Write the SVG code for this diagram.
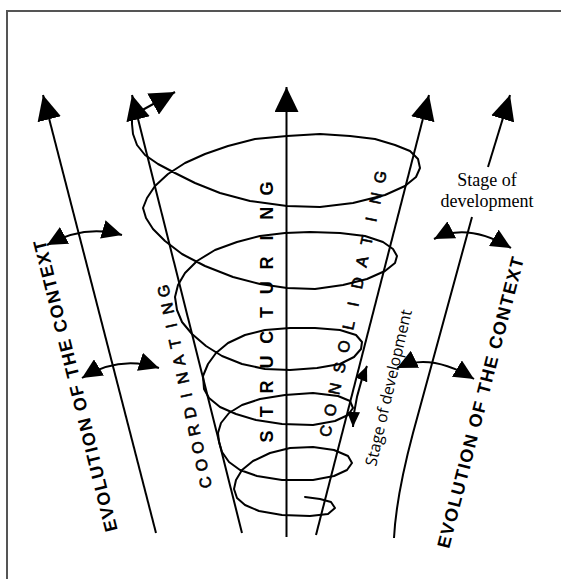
<svg xmlns="http://www.w3.org/2000/svg" width="561" height="579" viewBox="0 0 561 579">
<defs>
<style>
.ln{fill:none;stroke:#000;stroke-width:2}
.sp{fill:none;stroke:#000;stroke-width:2;stroke-linejoin:round;stroke-linecap:round}
.ev{font-family:"Liberation Sans",Arial,sans-serif;font-weight:bold;font-size:18px;fill:#000}
.st{font-family:"Liberation Sans",Arial,sans-serif;font-weight:bold;font-size:18px;fill:#000}
.co{font-family:"Liberation Sans",Arial,sans-serif;font-size:16px;fill:#000;stroke:#000;stroke-width:0.6}
.sd{font-family:"Liberation Serif","Times New Roman",serif;font-size:18px;fill:#000}
.sdi{font-family:"Open Sans","Noto Sans",sans-serif;font-size:16px;fill:#000}
</style>
<marker id="big" viewBox="0 0 25 24" refX="25" refY="12" markerWidth="25" markerHeight="24" markerUnits="userSpaceOnUse" orient="auto"><path d="M0,0 L25,12 L0,24 Z" fill="#000"/></marker>
<marker id="mid" viewBox="0 0 20 19" refX="20" refY="9.5" markerWidth="20" markerHeight="19" markerUnits="userSpaceOnUse" orient="auto-start-reverse"><path d="M0,0 L20,9.5 L0,19 Z" fill="#000"/></marker>
<marker id="sm" viewBox="0 0 15 13" refX="15" refY="6.5" markerWidth="15" markerHeight="13" markerUnits="userSpaceOnUse" orient="auto-start-reverse"><path d="M0,0 L15,6.5 L0,13 Z" fill="#000"/></marker>
</defs>
<rect width="561" height="579" fill="#fff"/>
<path id="frame" d="M7,579 L7,11 L561,11" fill="none" stroke="#555" stroke-width="2"/>

<g id="connectors">
<line id="axis-context-left" class="ln" x1="156" y1="533" x2="43" y2="95" marker-end="url(#big)"/>
<line id="axis-coordinating" class="ln" x1="242" y1="533" x2="132" y2="95" marker-end="url(#big)"/>
<line id="axis-structuring" class="ln" x1="286.5" y1="537" x2="286.5" y2="87" marker-end="url(#big)"/>
<line id="axis-consolidating" class="ln" x1="316" y1="535" x2="429" y2="95" marker-end="url(#big)"/>
<line id="axis-context-right-top" class="ln" x1="488" y1="167" x2="510" y2="95" marker-end="url(#big)"/>
<path id="axis-context-right-bottom" class="ln" d="M472,217 L413,433 C405,463 396,500 394,538"/>
<line id="spiral-head" class="ln" x1="137" y1="113" x2="175" y2="92" marker-end="url(#big)"/>
<path id="ctx-arrow-lu" class="ln" d="M47,245 Q85,224 122,235" marker-start="url(#mid)" marker-end="url(#mid)"/>
<path id="ctx-arrow-ll" class="ln" d="M82,378 Q119,355 159,368" marker-start="url(#mid)" marker-end="url(#mid)"/>
<path id="ctx-arrow-ru" class="ln" d="M434,239 Q467,222 511,248" marker-start="url(#mid)" marker-end="url(#mid)"/>
<path id="ctx-arrow-rl" class="ln" d="M397,368 Q430,352 474,379" marker-start="url(#mid)" marker-end="url(#mid)"/>
<path id="stage-arrow" class="ln" d="M367,366 Q354,397 353,427" marker-start="url(#sm)" marker-end="url(#sm)"/>
</g>

<g id="spiral">
<polyline class="sp" points="132,116 132,124 133,134 137,145 145,155 158,164 175,173 195,183 220,193 250,201 287,206 320,207 353,203 385,195 405,186 416,177 420,168 418,159 410,151 395,145 375,139 350,136 320,134 287,136 255,139 228,146 205,154 185,163 168,174 155,186 147,198 143,208 146,218 153,229 165,241 182,254 205,266 233,277 260,284 287,288 315,289 343,285 367,279 385,271 395,263 397,256 393,249 383,242 365,236 340,233 310,232 285,233 260,236 237,242 215,250 197,261 185,273 178,285 175,297 177,310 182,322 192,334 206,346 222,356 242,364 265,369 290,370 317,368 340,364 354,357 361,349 362,342 356,335 340,330 315,328 290,328 265,330 245,335 228,343 216,353 208,364 203,376 204,389 209,398 220,407 236,414 256,420 282,424 313,425 335,421 348,415 353,408 350,401 338,396 313,393 285,395 260,399 242,405 229,413 221,423 218,433 219,442 222,452 229,462 240,470 257,476 282,480 313,480 334,476 347,470 352,463 348,456 334,450 313,447 290,448 270,453 253,461 242,470 236,480 234,489 237,498 245,505 259,511 282,515 310,516 328,514 335,508 331,502 320,499 305,497"/>
</g>

<g id="node-evolution-left" transform="translate(81.5,384.5) rotate(-104)">
<text class="ev" x="0" y="0" text-anchor="middle" textLength="300" lengthAdjust="spacing">EVOLUTION OF THE CONTEXT</text>
</g>
<g id="node-evolution-right" transform="translate(486.5,404) rotate(-75.5)">
<text class="ev" x="0" y="0" text-anchor="middle" textLength="300" lengthAdjust="spacing">EVOLUTION OF THE CONTEXT</text>
</g>
<g id="node-coordinating" transform="translate(205,482.5) rotate(-102.2)">
<text class="co" x="0 17.8 35.6 53.4 71.2 89 106.8 124.6 142.4 160.2 178 195.8" y="5.8" text-anchor="middle">COORDINATING</text>
</g>
<g id="node-structuring" transform="translate(266.5,436.5) rotate(-90)">
<text class="st" x="0 24.8 49.6 74.4 99.2 124 148.8 173.6 198.4 223.2 248" y="6.4" text-anchor="middle">STRUCTURING</text>
</g>
<g id="node-consolidating" transform="translate(325.5,431) rotate(-77.9)">
<text class="co" x="0 21.65 43.3 64.95 86.6 108.25 129.9 151.55 173.2 194.85 216.5 238.15 259.8" y="5.8" text-anchor="middle">CONSOLIDATING</text>
</g>
<g id="node-stage-rotated" transform="translate(394,389) rotate(-77)">
<text class="sdi" x="0" y="0" text-anchor="middle" textLength="160" lengthAdjust="spacingAndGlyphs">Stage of development</text>
</g>
<g id="node-stage-top">
<text class="sd" x="487" y="186" text-anchor="middle">Stage of</text>
<text class="sd" x="487" y="207" text-anchor="middle">development</text>
</g>
</svg>
